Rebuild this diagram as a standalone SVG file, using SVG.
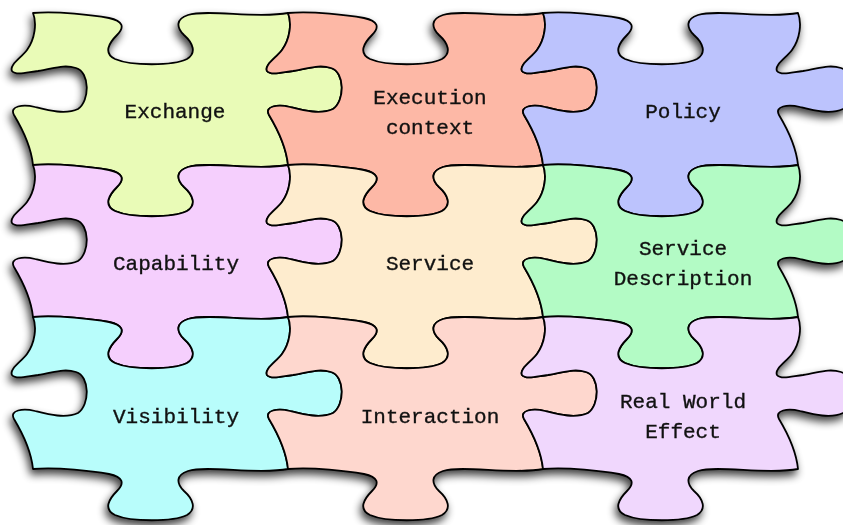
<svg xmlns="http://www.w3.org/2000/svg" width="843" height="525" viewBox="0 0 843 525">
<style>
.lbl{font-family:"Liberation Mono","Courier New",monospace;font-size:21px;fill:#111;stroke:#111;stroke-width:0.35;text-anchor:middle}
.pc{stroke:#000;stroke-width:1.8;stroke-linejoin:round}
</style>
<defs>
<path id="piece" d="M0,0 C25,-2 60,2 76,5 C90,8 92,14 84,22 C76,30 70,40 82,46 C98,53 140,53 154,46 C164,40 160,30 151,22 C143,14 143,6 155,2 C175,-4 225,6 255,0 C259,10 257,26 249,37 C243,45 231,52 234,58 C238,63 250,59 260,58 C275,56 285,51 298,55 C312,59 312,88 300,96 C287,102 269,97 257,94 C245,91 231,93 236,102 C242,112 253,132 255,152 C225,158 175,148 155,154 C143,158 143,166 151,174 C160,182 164,192 154,198 C140,205 98,205 82,198 C70,192 76,182 84,174 C92,166 90,160 76,157 C60,154 25,150 0,152 C-2,132 -13,112 -19,102 C-24,93 -10,91 2,94 C14,97 32,102 45,96 C57,88 57,59 43,55 C30,51 20,56 5,58 C-5,59 -17,63 -21,58 C-24,52 -12,45 -6,37 C2,26 4,10 0,0 Z"/>
<filter id="sh" x="-10%" y="-10%" width="120%" height="125%">
<feGaussianBlur in="SourceAlpha" stdDeviation="4"/>
<feOffset dx="-2" dy="5" result="b"/>
<feComponentTransfer in="b" result="c"><feFuncA type="linear" slope="0.75"/></feComponentTransfer>
<feMerge><feMergeNode in="c"/><feMergeNode in="SourceGraphic"/></feMerge>
</filter>
</defs>
<rect width="843" height="525" fill="#fff"/>
<g id="puzzle" filter="url(#sh)">
<g id="exchange"><use href="#piece" class="pc" fill="#e9fbb7" transform="translate(33,13)"/></g>
<g id="execution-context"><use href="#piece" class="pc" fill="#fdb8a6" transform="translate(288,13)"/></g>
<g id="policy"><use href="#piece" class="pc" fill="#bcc3fd" transform="translate(543,13)"/></g>
<g id="capability"><use href="#piece" class="pc" fill="#f5cffd" transform="translate(33,165)"/></g>
<g id="service"><use href="#piece" class="pc" fill="#feecce" transform="translate(288,165)"/></g>
<g id="service-description"><use href="#piece" class="pc" fill="#b3fbc5" transform="translate(543,165)"/></g>
<g id="visibility"><use href="#piece" class="pc" fill="#b8fdfb" transform="translate(33,317)"/></g>
<g id="interaction"><use href="#piece" class="pc" fill="#fed7ce" transform="translate(288,317)"/></g>
<g id="real-world-effect"><use href="#piece" class="pc" fill="#f0d7fd" transform="translate(543,317)"/></g>
</g>
<g id="connectors"/>
<g id="labels">
<text class="lbl" x="175" y="118">Exchange</text>
<text class="lbl" x="430" y="104">Execution</text>
<text class="lbl" x="430" y="134">context</text>
<text class="lbl" x="683" y="118">Policy</text>
<text class="lbl" x="176" y="270">Capability</text>
<text class="lbl" x="430" y="270">Service</text>
<text class="lbl" x="683" y="255">Service</text>
<text class="lbl" x="683" y="285">Description</text>
<text class="lbl" x="176" y="423">Visibility</text>
<text class="lbl" x="430" y="423">Interaction</text>
<text class="lbl" x="683" y="408">Real World</text>
<text class="lbl" x="683" y="438">Effect</text>
</g>
</svg>
